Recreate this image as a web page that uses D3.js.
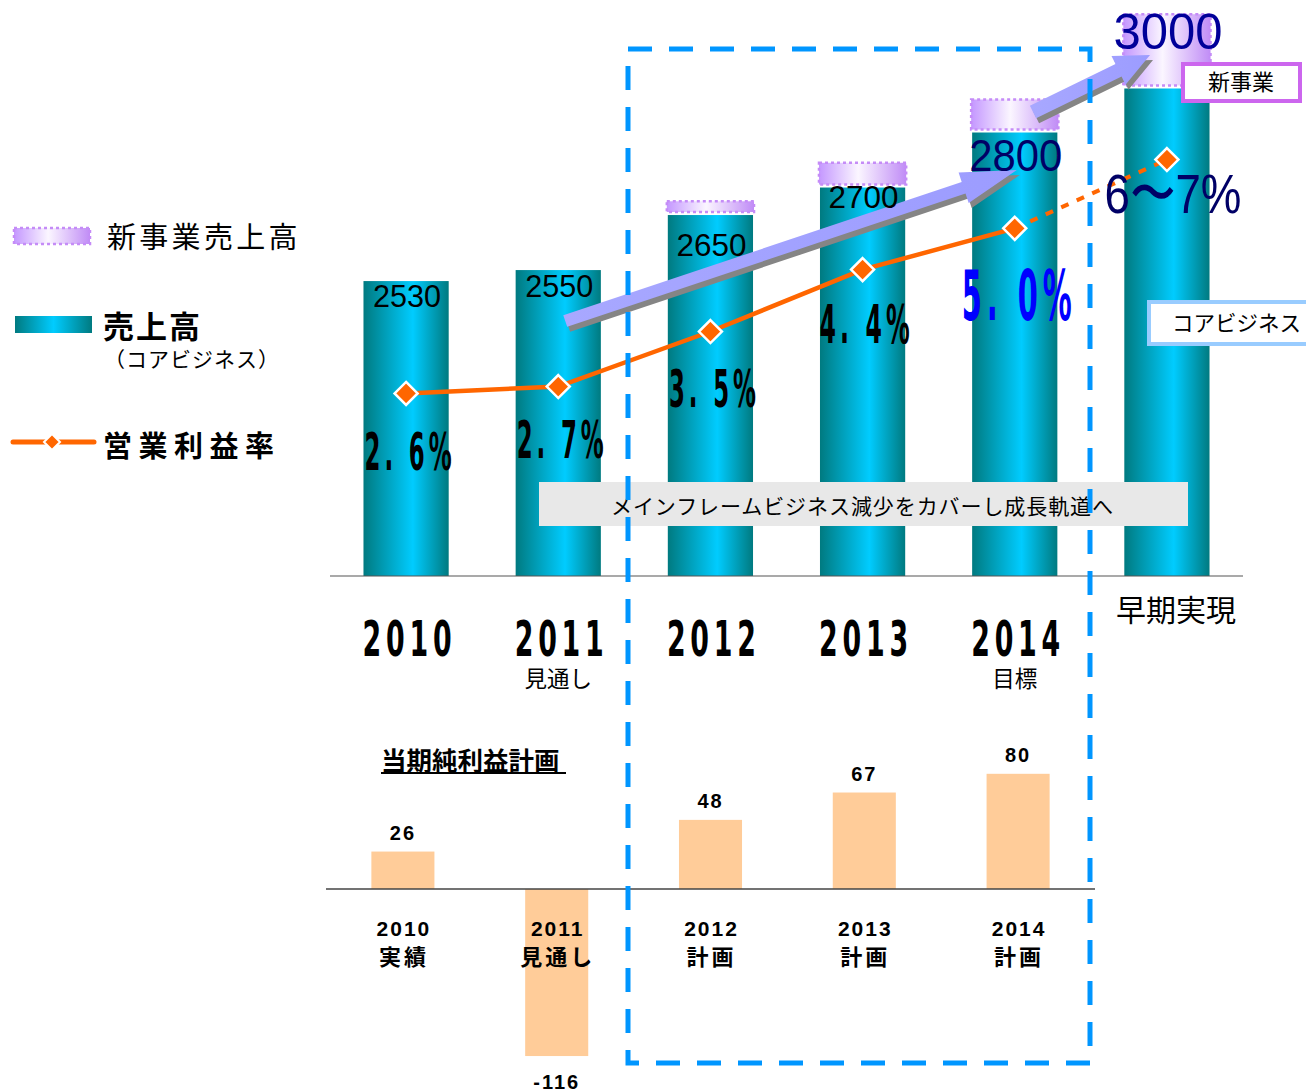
<!DOCTYPE html>
<html><head><meta charset="utf-8">
<script src="https://cdn.jsdelivr.net/npm/d3@7"></script>
<style>body{margin:0;background:#fff} svg{display:block}</style>
</head><body>
<script>
// ---------- data ----------
const categories = ["2010","2011","2012","2013","2014","早期実現"];
const categorySub = ["","見通し","","","目標",""];
const coreSales = [2530,2550,2650,2700,2800,2880];
const newBizSales = [0,0,25,45,60,135];
const salesLabels = ["2530","2550","2650","2700","2800","3000"];
const opMargin = [2.6,2.7,3.5,4.4,5.0,6.0];
const opMarginLabels = ["2. 6%","2. 7%","3. 5%","4. 4%","5. 0%","6〜7%"];
const netYears = ["2010","2011","2012","2013","2014"];
const netSub = ["実績","見通し","計画","計画","計画"];
const netIncome = [26,-116,48,67,80];
const netLabels = ["26","-116","48","67","80"];

// ---------- setup ----------
const W=1306,H=1092;
const JP = "'Noto Sans CJK JP','Noto Sans',sans-serif";
const NUM = "'Liberation Sans',Arial,sans-serif";
const NARROW = "'Liberation Sans Narrow','DejaVu Sans Condensed','Liberation Sans',sans-serif";
const svg = d3.select("body").append("svg").attr("width",W).attr("height",H);
const defs = svg.append("defs");
function grad(id, stops){
  const g = defs.append("linearGradient").attr("id",id).attr("x1",0).attr("x2",1).attr("y1",0).attr("y2",0);
  stops.forEach(([o,c])=>g.append("stop").attr("offset",o).attr("stop-color",c));
}
grad("teal",[[0,"#007a80"],[0.58,"#00ccff"],[1,"#007a80"]]);
grad("tealL",[[0,"#007a80"],[0.5,"#00ccff"],[1,"#007a80"]]);
grad("lav",[[0,"#c497ff"],[0.45,"#fbf6ff"],[1,"#c08cf6"]]);
grad("arrowG",[[0,"#a8a8ff"],[1,"#9c9cff"]]);

// condensed text helper: glyphs squeezed horizontally to a fill fraction, spacing fills the rest
function condText(sel, cx, base, str, size, width, fill, color){
  const g = sel.append("g");
  const t = g.append("text").attr("x",0).attr("y",0).attr("text-anchor","middle")
    .attr("font-family",NARROW).attr("font-weight","bold").attr("font-size",size)
    .attr("fill",color||"#000").text(str);
  const w = t.node().getComputedTextLength();
  const sx = width*fill/w;
  g.attr("transform",`translate(${cx},${base}) scale(${sx},1)`);
  t.attr("textLength",width/sx).attr("lengthAdjust","spacing");
}

// ---------- scales ----------
const x = d3.scaleBand().domain(categories).range([330,1243]).paddingInner(0.44).paddingOuter(0.22);
const y = d3.scaleLinear().domain([1994,3019]).range([576,12]);
const yRate = d3.scaleLinear().domain([2.6,6.0]).range([393.4,159.6]);
const bw = x.bandwidth();
const xc = c => x(c)+bw/2;

// ---------- top chart ----------
const gTop = svg.append("g");
gTop.selectAll("rect.core").data(categories).join("rect")
  .attr("x",d=>x(d)).attr("y",(d,i)=>y(coreSales[i]))
  .attr("width",bw).attr("height",(d,i)=>y(1994)-y(coreSales[i]))
  .attr("fill","url(#teal)");
gTop.selectAll("rect.cap").data(categories.filter((d,i)=>newBizSales[i]>0)).join("rect")
  .attr("x",d=>x(d)-1).attr("width",bw+2)
  .attr("y",d=>{const i=categories.indexOf(d);return y(coreSales[i]+newBizSales[i]);})
  .attr("height",d=>{const i=categories.indexOf(d);return y(coreSales[i])-y(coreSales[i]+newBizSales[i])-3;})
  .attr("fill","url(#lav)").attr("stroke","#c58cf7").attr("stroke-width",2.5).attr("stroke-dasharray","3 3");

// axis baseline
svg.append("line").attr("x1",330).attr("x2",1243).attr("y1",y(1994)).attr("y2",y(1994)).attr("stroke","#555").attr("stroke-width",1.2);

// arrows
function arrowPath(x1,y1,x2,y2,sw,hw,hl){
  const dx=x2-x1, dy=y2-y1, L=Math.hypot(dx,dy), ux=dx/L, uy=dy/L, px=-uy, py=ux;
  const bx=x2-ux*hl, by=y2-uy*hl;
  const pts=[[x1+px*sw,y1+py*sw],[bx+px*sw,by+py*sw],[bx+px*hw,by+py*hw],[x2,y2],[bx-px*hw,by-py*hw],[bx-px*sw,by-py*sw],[x1-px*sw,y1-py*sw]];
  return "M"+pts.map(p=>p.map(v=>v.toFixed(1)).join(",")).join("L")+"Z";
}
const arrows = [[xc("2011")+7,321,xc("2014")+2,170,6,16,56],[1033,112,1150,55,7,16,35]];
arrows.forEach(a=>{
  svg.append("path").attr("d",arrowPath(...a)).attr("transform","translate(3,5)").attr("fill","#858585");
  svg.append("path").attr("d",arrowPath(...a)).attr("fill","url(#arrowG)");
});

// sales labels
const salesDy = [26,27,41,20,38,-39];
const salesSize = [31,31,31,31,44,50];
const salesLen = [68,68,70,70,93,109];
const salesColor = ["#000","#000","#000","#000","#000066","#000099"];
svg.selectAll("text.sales").data(salesLabels).join("text")
  .attr("x",(d,i)=>xc(categories[i])+1).attr("y",(d,i)=>y(coreSales[i])+salesDy[i])
  .attr("text-anchor","middle").attr("font-family",NUM)
  .attr("font-size",(d,i)=>salesSize[i]).attr("fill",(d,i)=>salesColor[i])
  .attr("textLength",(d,i)=>salesLen[i]).attr("lengthAdjust","spacingAndGlyphs")
  .text(d=>d);

// operating margin line
const pts = categories.map((c,i)=>[xc(c), yRate(opMargin[i])]);
svg.append("path").attr("d",d3.line()(pts.slice(0,5))).attr("fill","none").attr("stroke","#ff6600").attr("stroke-width",4.5);
svg.append("path").attr("d",d3.line()(pts.slice(4))).attr("fill","none").attr("stroke","#ff6600").attr("stroke-width",4).attr("stroke-dasharray","8 9");
const dia = r => `M0,${-r}L${r},0L0,${r}L${-r},0Z`;
svg.selectAll("path.dia").data(pts).join("path")
  .attr("d",dia(11.5)).attr("transform",d=>`translate(${d[0]},${d[1]})`)
  .attr("fill","#ff6600").attr("stroke","#fff").attr("stroke-width",2.5);

// margin labels
const rateDy = [77,71,75,73,92,53];
const rateSize = [52,52,52,54,70,56];
const rateLen = [87,87,87,90,110,137];
const rateColor = ["#000","#000","#000","#000","#0000ff","#000066"];
opMarginLabels.forEach((s,i)=>{
  if(i<5){
    condText(svg, xc(categories[i])+2, yRate(opMargin[i])+rateDy[i], s, rateSize[i], rateLen[i], 0.82, rateColor[i]);
  } else {
    svg.append("text").attr("x",xc(categories[i])+6).attr("y",yRate(opMargin[i])+rateDy[i])
      .attr("text-anchor","middle").attr("font-family",NUM).attr("font-size",rateSize[i]).attr("fill",rateColor[i])
      .attr("textLength",rateLen[i]).attr("lengthAdjust","spacingAndGlyphs").text(s);
  }
});

// category labels
categories.slice(0,5).forEach(c=>condText(svg, xc(c)+1, 656, c, 49, 89, 0.84, "#000"));
svg.selectAll("text.catsub").data(categorySub).join("text")
  .attr("x",(d,i)=>xc(categories[i])).attr("y",687).attr("text-anchor","middle")
  .attr("font-family",JP).attr("font-size",22.5).text(d=>d);
svg.append("text").attr("x",xc("早期実現")+9).attr("y",621).attr("text-anchor","middle")
  .attr("font-family",JP).attr("font-size",30).text(categories[5]);

// banner
svg.append("rect").attr("x",539).attr("y",482).attr("width",649).attr("height",44).attr("fill","#e8e8e8");
svg.append("text").attr("x",862).attr("y",514).attr("text-anchor","middle").attr("font-family",JP).attr("font-size",21)
  .attr("textLength",502).attr("lengthAdjust","spacing")
  .text("メインフレームビジネス減少をカバーし成長軌道へ");

// side boxes
svg.append("rect").attr("x",1183).attr("y",64).attr("width",117).attr("height",37).attr("fill","#fff").attr("stroke","#cc66ee").attr("stroke-width",4);
svg.append("text").attr("x",1241).attr("y",90).attr("text-anchor","middle").attr("font-family",JP).attr("font-size",22).text("新事業");
svg.append("rect").attr("x",1149).attr("y",302).attr("width",170).attr("height",42).attr("fill","#fff").attr("stroke","#99ccff").attr("stroke-width",4);
svg.append("text").attr("x",1172).attr("y",331).attr("font-family",JP).attr("font-size",21.5).text("コアビジネス");

// ---------- legend ----------
svg.append("rect").attr("x",14).attr("y",228).attr("width",76).attr("height",16).attr("fill","url(#lav)").attr("stroke","#c58cf7").attr("stroke-width",2.5).attr("stroke-dasharray","3 3");
svg.append("text").attr("x",107).attr("y",248).attr("font-family",JP).attr("font-size",29).attr("letter-spacing",3.3).text("新事業売上高");
svg.append("rect").attr("x",15).attr("y",316).attr("width",77).attr("height",17).attr("fill","url(#tealL)");
svg.append("text").attr("x",103).attr("y",338).attr("font-family",JP).attr("font-weight","bold").attr("font-size",31).attr("letter-spacing",2).text("売上高");
svg.append("text").attr("x",104).attr("y",367).attr("font-family",JP).attr("font-size",21).attr("letter-spacing",1).text("（コアビジネス）");
svg.append("line").attr("x1",13).attr("x2",94).attr("y1",442).attr("y2",442).attr("stroke","#ff6600").attr("stroke-width",5).attr("stroke-linecap","round");
svg.append("path").attr("d",dia(8)).attr("transform","translate(52,442)").attr("fill","#ff6600").attr("stroke","#fff").attr("stroke-width",2);
svg.append("text").attr("x",103).attr("y",457).attr("font-family",JP).attr("font-weight","bold").attr("font-size",29).attr("letter-spacing",6.5).text("営業利益率");

// ---------- bottom chart ----------
const xN = d3.scaleBand().domain(netYears).range([326,1095]).paddingInner(0.59).paddingOuter(0.295);
const yN = d3.scaleLinear().domain([-120,100]).range([889+120*1.44, 889-100*1.44]);
const bwN = xN.bandwidth();
svg.selectAll("rect.net").data(netYears).join("rect")
  .attr("x",d=>xN(d)).attr("width",bwN)
  .attr("y",(d,i)=>yN(Math.max(0,netIncome[i])))
  .attr("height",(d,i)=>Math.abs(yN(netIncome[i])-yN(0)))
  .attr("fill","#ffcc99");
svg.append("line").attr("x1",326).attr("x2",1095).attr("y1",yN(0)).attr("y2",yN(0)).attr("stroke","#444").attr("stroke-width",1.5);
svg.selectAll("text.netv").data(netLabels).join("text")
  .attr("x",(d,i)=>xN(netYears[i])+bwN/2)
  .attr("y",(d,i)=>netIncome[i]>=0? yN(netIncome[i])-12 : yN(netIncome[i])+33)
  .attr("text-anchor","middle").attr("font-family",NUM).attr("font-weight","bold").attr("font-size",20).attr("letter-spacing",2)
  .text(d=>d);
svg.selectAll("text.nety").data(netYears).join("text")
  .attr("x",d=>xN(d)+bwN/2+1).attr("y",936).attr("text-anchor","middle")
  .attr("font-family",NUM).attr("font-weight","bold").attr("font-size",21).attr("letter-spacing",2).text(d=>d);
svg.selectAll("text.nets").data(netSub).join("text")
  .attr("x",(d,i)=>xN(netYears[i])+bwN/2+1).attr("y",965).attr("text-anchor","middle")
  .attr("font-family",JP).attr("font-weight","bold").attr("font-size",22).attr("letter-spacing",3).text(d=>d);
svg.append("text").attr("x",381).attr("y",770).attr("font-family",JP).attr("font-weight","bold").attr("font-size",25.5)
  .text("当期純利益計画");
svg.append("line").attr("x1",381).attr("x2",566).attr("y1",773).attr("y2",773).attr("stroke","#000").attr("stroke-width",2);

// ---------- dashed highlight box ----------
svg.append("rect").attr("x",628).attr("y",49).attr("width",462).attr("height",1014)
  .attr("fill","none").attr("stroke","#0096ff").attr("stroke-width",5).attr("stroke-dasharray","24 17");
</script>
</body></html>
